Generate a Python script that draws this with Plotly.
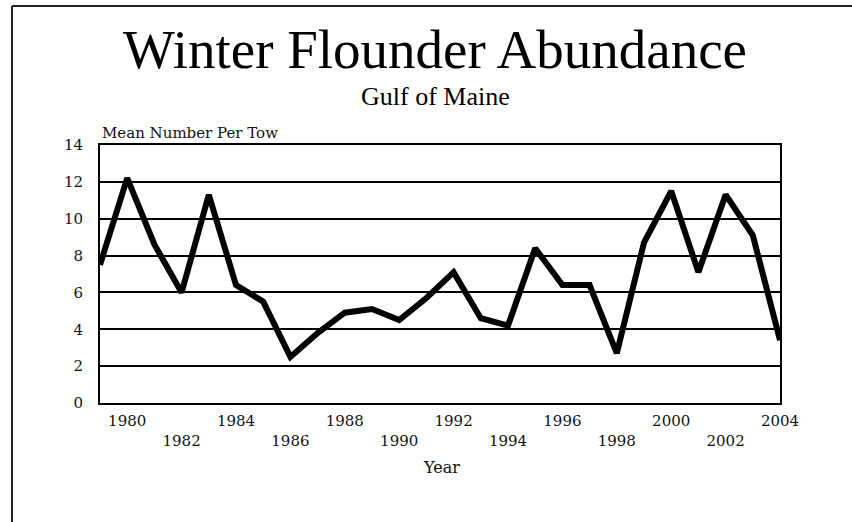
import plotly.graph_objects as go

years = list(range(1979, 2005))
mean_per_tow = [7.5, 12.2, 8.6, 6.0, 11.3, 6.4, 5.5, 2.5, 3.8, 4.9, 5.1, 4.5, 5.7, 7.1,
                4.6, 4.2, 8.4, 6.4, 6.4, 2.7, 8.7, 11.5, 7.1, 11.3, 9.1, 3.4]
tick_years = list(range(1980, 2005, 2))
tick_labels = [str(y) if (y - 1980) % 4 == 0 else " <br>" + str(y) for y in tick_years]
y_ticks = [0, 2, 4, 6, 8, 10, 12, 14]

SERIF = "Liberation Serif, Times New Roman, serif"
WIDE = "DejaVu Serif, serif"

fig = go.Figure()
fig.add_trace(go.Scatter(
    x=years, y=mean_per_tow, mode="lines",
    line=dict(color="black", width=6),
    hoverinfo="skip", showlegend=False,
))

L, R, T, B = 100, 72, 145, 119
W, H = 852, 522
pw, ph = W - L - R, H - T - B

def px(x):
    return (x - L) / pw

def py(y):
    return (H - B - y) / ph

fig.update_layout(
    width=W, height=H,
    margin=dict(l=L, r=R, t=T, b=B, pad=0),
    paper_bgcolor="white", plot_bgcolor="white",
    font=dict(family=SERIF, color="black"),
    title=dict(text="Winter Flounder Abundance", x=435 / W, xanchor="center",
               y=1 - 49 / H, yanchor="middle",
               font=dict(family=SERIF, size=55, color="black")),
    xaxis=dict(range=[1979, 2004], tickmode="array", tickvals=tick_years, ticktext=tick_labels,
               showgrid=False, zeroline=False, showline=True, linecolor="black", linewidth=2,
               mirror=True, ticks="", tickfont=dict(family=WIDE, size=15, color="#111"),
               ticklabelstandoff=3),
    yaxis=dict(range=[0, 14], tickmode="array", tickvals=y_ticks,
               showgrid=True, gridcolor="black", gridwidth=1.5, zeroline=False,
               showline=True, linecolor="black", linewidth=2, mirror=True, ticks="",
               tickfont=dict(family=WIDE, size=15, color="#111"), ticklabelstandoff=12),
    annotations=[
        dict(text="Gulf of Maine", xref="paper", yref="paper", x=px(435), y=py(96),
             xanchor="center", yanchor="middle", showarrow=False,
             font=dict(family=SERIF, size=26, color="black")),
        dict(text="Mean Number Per Tow", xref="paper", yref="paper", x=px(100), y=py(133),
             xanchor="left", yanchor="middle", showarrow=False,
             font=dict(family=WIDE, size=15, color="#111")),
        dict(text="Year", xref="paper", yref="paper", x=px(441), y=py(467),
             xanchor="center", yanchor="middle", showarrow=False,
             font=dict(family=WIDE, size=16, color="#111")),
    ],
    shapes=[
        dict(type="line", xref="paper", yref="paper", x0=px(12), x1=px(852), y0=py(6), y1=py(6),
             line=dict(color="#222", width=2)),
        dict(type="line", xref="paper", yref="paper", x0=px(12), x1=px(12), y0=py(6), y1=py(522),
             line=dict(color="#222", width=2)),
    ],
)

fig.write_html("out.html", config={"displayModeBar": False},
               post_script="document.body.style.margin='0';")
